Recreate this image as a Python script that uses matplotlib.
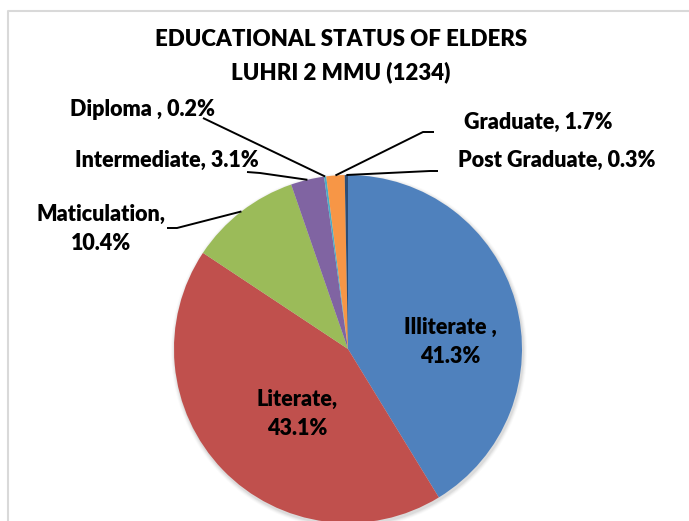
import numpy as np
import matplotlib
matplotlib.use("Agg")
import matplotlib.pyplot as plt
from matplotlib.patches import Circle

# ---- data ----
categories = ["Illiterate", "Literate", "Maticulation", "Intermediate",
              "Diploma", "Graduate", "Post Graduate"]
values = [41.3, 43.1, 10.4, 3.1, 0.2, 1.7, 0.3]
labels = ["Illiterate ,\n41.3%", "Literate,\n43.1%", "Maticulation,\n10.4%",
          "Intermediate, 3.1%", "Diploma , 0.2%", "Graduate, 1.7%",
          "Post Graduate, 0.3%"]
colors = ["#4F81BD", "#C0504D", "#9BBB59", "#8064A2", "#4BACC6", "#F79646", "#2C4D75"]
title_lines = ["EDUCATIONAL STATUS OF ELDERS", "LUHRI 2 MMU (1234)"]

W, H = 689, 521
FONT = ["Lato", "DejaVu Sans"]
WEIGHT = 800

fig = plt.figure(figsize=(W / 100, H / 100), dpi=100)
ax = fig.add_axes([0, 0, 1, 1])
ax.set_xlim(0, W)
ax.set_ylim(0, H)
ax.axis("off")

def Y(y):
    return H - y

# chart frame (light gray left/top border)
ax.plot([8, 8, W], [Y(H), Y(11), Y(11)], color="#D9D9D9", lw=1.5, zorder=0)

# pie layout
cx, cy, R = 348, 349, 174

# soft shadow
for k, a in enumerate([0.05, 0.04, 0.03, 0.02]):
    ax.add_patch(Circle((cx + 1, Y(cy) - 2), R + 1 + k, color="black",
                        alpha=a, lw=0, zorder=1))

wedges, _ = ax.pie(values, colors=colors, startangle=90, counterclock=False,
                   radius=R, center=(cx, Y(cy)), frame=True,
                   wedgeprops=dict(linewidth=0, edgecolor="none"))
for w in wedges:
    w.set_zorder(2)
ax.set_xlim(0, W)
ax.set_ylim(0, H)
ax.set_aspect("equal")
ax.axis("off")

# title
ax.text(341, Y(40), title_lines[0], ha="center", va="center",
        fontsize=16, fontweight=WEIGHT, family=FONT, color="black")
ax.text(341, Y(72), title_lines[1], ha="center", va="center",
        fontsize=16, fontweight=WEIGHT, family=FONT, color="black")

LFS = 15.5
LS = 1.5
# inside labels
inside = {0: (450, 342), 1: (297, 414)}
for i, (tx, ty) in inside.items():
    ax.text(tx, Y(ty), labels[i], ha="center", va="center", fontsize=LFS,
            fontweight=WEIGHT, family=FONT, linespacing=LS, zorder=5)

# outside labels: text centre, path of leader (points from text side toward wedge)
outside = {
    2: ((101, 229), [(167, 228), (177, 228)]),
    3: ((167, 160), [(247, 172), (260, 173)]),
    4: ((142, 110), [(203, 118)]),
    5: ((538, 122), [(434, 132), (423, 132)]),
    6: ((557, 160), [(438, 171), (430, 171)]),
}
for i, ((tx, ty), path) in outside.items():
    ax.text(tx, Y(ty), labels[i], ha="center", va="center", fontsize=LFS,
            fontweight=WEIGHT, family=FONT, linespacing=LS, zorder=5)
    w = wedges[i]
    mid = np.deg2rad((w.theta1 + w.theta2) / 2)
    ex = cx + R * np.cos(mid)
    ey = Y(cy) + R * np.sin(mid)
    xs = [p[0] for p in path] + [ex]
    ys = [Y(p[1]) for p in path] + [ey]
    ax.plot(xs, ys, color="black", lw=1.4, zorder=4, solid_capstyle="butt")

fig.savefig("out.png", dpi=100, facecolor="white")
